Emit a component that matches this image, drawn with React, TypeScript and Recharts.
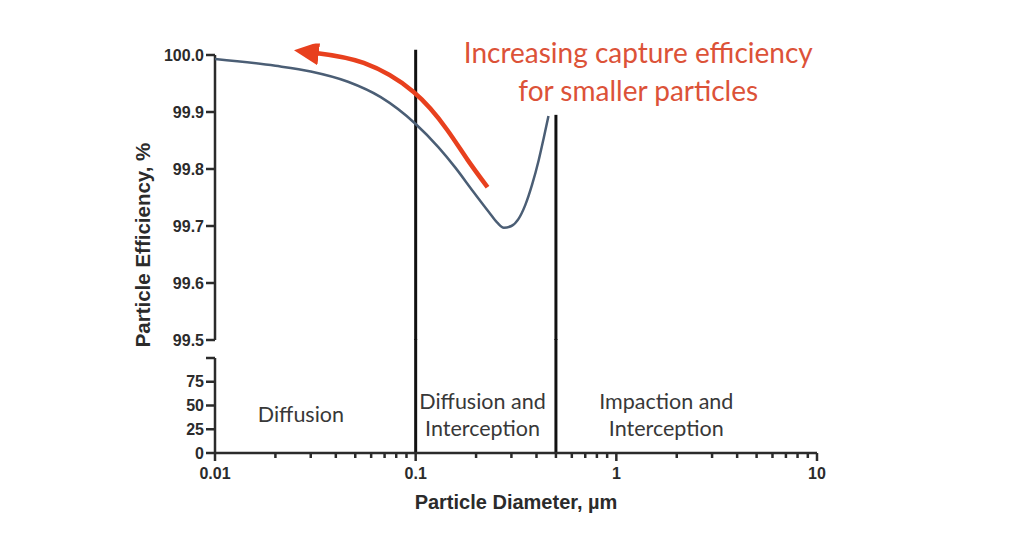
import { LineChart, ComposedChart, Line, Scatter, XAxis, YAxis, ReferenceLine, ReferenceDot } from "recharts";

// blue efficiency curve (top panel)
const diameter = [0.01, 0.02, 0.03, 0.046, 0.067, 0.1, 0.13, 0.158, 0.192, 0.231, 0.255, 0.275, 0.3, 0.325, 0.352, 0.38, 0.41, 0.435, 0.459];
const efficiency = [99.993, 99.981, 99.971, 99.953, 99.926, 99.879, 99.838, 99.802, 99.762, 99.725, 99.706, 99.697, 99.7, 99.712, 99.737, 99.772, 99.815, 99.855, 99.893];

// red annotation arrow, tail to head
const arrowX = [0.228, 0.1815, 0.144, 0.0977, 0.0551, 0.0318];
const arrowY = [99.768, 99.816, 99.868, 99.935, 99.986, 100.0035];

// mechanism boundaries
const boundaryX = [0.1, 0.5];
const boundaryTop = [100.009, 99.895];

const topTicks = [99.5, 99.6, 99.7, 99.8, 99.9, 100.0];
const bottomTicks = [0, 25, 50, 75, 100];
const majorX = [0.01, 0.1, 1, 10];
const minorX = [0.02, 0.03, 0.04, 0.05, 0.06, 0.07, 0.08, 0.09, 0.2, 0.3, 0.4, 0.5, 0.6, 0.7, 0.8, 0.9, 2, 3, 4, 5, 6, 7, 8, 9];

const regionX = [0.0268, 0.2154, 1.774];
const regionLevel = [40, 40, 40];
const regionLines = [["Diffusion"], ["Diffusion and", "Interception"], ["Impaction and", "Interception"]];

const curve = diameter.map((d, i) => ({ d, eff: efficiency[i] }));
const arrow = arrowX.map((d, i) => ({ d, eff: arrowY[i] }));
const regions = regionX.map((d, i) => ({ d, level: regionLevel[i], lines: regionLines[i] }));
const xTicks = [...majorX, ...minorX].sort((a, b) => a - b);

const AXIS = "#2b2b2b";
const RED = "#e8401e";
const tickFont = { fontFamily: "Liberation Sans, Arial, sans-serif", fontWeight: 700, fontSize: 16, fill: AXIS };

const XTick = (props: any) => {
  const { x, y, payload } = props;
  const v = payload.value;
  const major = majorX.includes(v);
  return (
    <g>
      <line x1={x} x2={x} y1={y} y2={y + (major ? 8 : 5)} stroke={AXIS} strokeWidth={2.5} />
      {major && (
        <text x={x} y={y + 26} textAnchor="middle" {...tickFont}>
          {String(v)}
        </text>
      )}
    </g>
  );
};

const RegionLabel = (props: any) => {
  const { cx, cy, payload } = props;
  const lines: string[] = payload.lines;
  const lh = 27;
  const y0 = cy - ((lines.length - 1) * lh) / 2 + 7;
  return (
    <text textAnchor="middle" fontFamily="Lato, sans-serif" fontSize={21.5} fill="#383838">
      {lines.map((t, i) => (
        <tspan key={t + i} x={cx} y={y0 + i * lh}>
          {t}
        </tspan>
      ))}
    </text>
  );
};

const Note = ({ viewBox }: any) => {
  const cx = viewBox.x + viewBox.width / 2;
  const cy = viewBox.y + viewBox.height / 2;
  return (
    <text textAnchor="middle" fontFamily="Lato, sans-serif" fontSize={28} fill="#dc5238">
      <tspan x={cx} y={cy - 10}>Increasing capture efficiency</tspan>
      <tspan x={cx} y={cy + 28}>for smaller particles</tspan>
    </text>
  );
};

const margins = { right: 207, left: 155 };

export default function App() {
  return (
    <div style={{ position: "absolute", left: 0, top: 0, width: 1024, height: 535, background: "#fff" }}>
      {/* top panel: 99.5 – 100 % */}
      <div style={{ position: "absolute", left: 0, top: 0 }}>
        <LineChart width={1024} height={350} data={curve} margin={{ top: 43.6, bottom: 10, ...margins }}>
          <defs>
            <marker id="arrowHead" markerUnits="userSpaceOnUse" markerWidth={25} markerHeight={24} refX={3} refY={12} orient="auto">
              <path d="M0,0 L25,12 L0,24 Z" fill={RED} />
            </marker>
          </defs>
          <XAxis dataKey="d" type="number" scale="log" domain={[0.01, 10]} allowDataOverflow hide />
          <YAxis
            type="number"
            domain={[99.5, 100.02]}
            allowDataOverflow
            ticks={topTicks}
            interval={0}
            width={60}
            axisLine={false}
            tickSize={9}
            tickMargin={2}
            tickLine={{ stroke: AXIS, strokeWidth: 2.5 }}
            tick={tickFont}
            tickFormatter={(v: number) => v.toFixed(1)}
          />
          <ReferenceLine
            segment={[{ x: 0.01, y: 99.5 }, { x: 0.01, y: 100 }]}
            stroke={AXIS}
            strokeWidth={2.5}
            ifOverflow="visible"
          />
          {boundaryX.map((bx, i) => (
            <ReferenceLine
              key={bx}
              segment={[{ x: bx, y: 99.5 }, { x: bx, y: boundaryTop[i] }]}
              stroke="#111"
              strokeWidth={3}
              ifOverflow="visible"
            />
          ))}
          <ReferenceDot x={1.286} y={99.968} r={0} fill="none" stroke="none" label={(p: any) => <Note {...p} />} />
          <Line
            dataKey="eff"
            type="monotone"
            stroke="#4b5e75"
            strokeWidth={2.5}
            dot={false}
            isAnimationActive={false}
          />
          <Line
            data={arrow}
            dataKey="eff"
            type="natural"
            stroke={RED}
            strokeWidth={4.5}
            dot={false}
            markerEnd="url(#arrowHead)"
            isAnimationActive={false}
          />
        </LineChart>
      </div>

      {/* bottom panel: 0 – 100 % with the x axis */}
      <div style={{ position: "absolute", left: 0, top: 0 }}>
        <ComposedChart width={1024} height={535} data={regions} margin={{ top: 358, bottom: 22, ...margins }}>
          <XAxis
            dataKey="d"
            type="number"
            scale="log"
            domain={[0.01, 10]}
            allowDataOverflow
            ticks={xTicks}
            interval={0}
            height={60}
            axisLine={{ stroke: AXIS, strokeWidth: 2.5 }}
            tickLine={false}
            tickSize={0}
            tickMargin={0}
            tick={<XTick />}
            label={{
              value: "Particle Diameter, µm",
              position: "insideBottom",
              offset: 4,
              style: { ...tickFont, fontSize: 20 },
            }}
          />
          <YAxis
            type="number"
            domain={[0, 100]}
            allowDataOverflow
            ticks={bottomTicks}
            interval={0}
            width={60}
            axisLine={{ stroke: AXIS, strokeWidth: 2.5 }}
            tickSize={9}
            tickMargin={2}
            tickLine={{ stroke: AXIS, strokeWidth: 2.5 }}
            tick={tickFont}
            tickFormatter={(v: number) => (v === 100 ? "" : String(v))}
          />
          {boundaryX.map((bx) => (
            <ReferenceLine
              key={bx}
              segment={[{ x: bx, y: 0 }, { x: bx, y: 120 }]}
              stroke="#111"
              strokeWidth={3}
              ifOverflow="visible"
            />
          ))}
          <Scatter dataKey="level" shape={<RegionLabel />} isAnimationActive={false} />
        </ComposedChart>
      </div>

      <div
        style={{
          position: "absolute",
          left: 143,
          top: 245,
          transform: "translate(-50%, -50%) rotate(-90deg)",
          whiteSpace: "nowrap",
          fontFamily: "Liberation Sans, Arial, sans-serif",
          fontWeight: 700,
          fontSize: 20.5,
          color: AXIS,
        }}
      >
        Particle Efficiency, %
      </div>
    </div>
  );
}
